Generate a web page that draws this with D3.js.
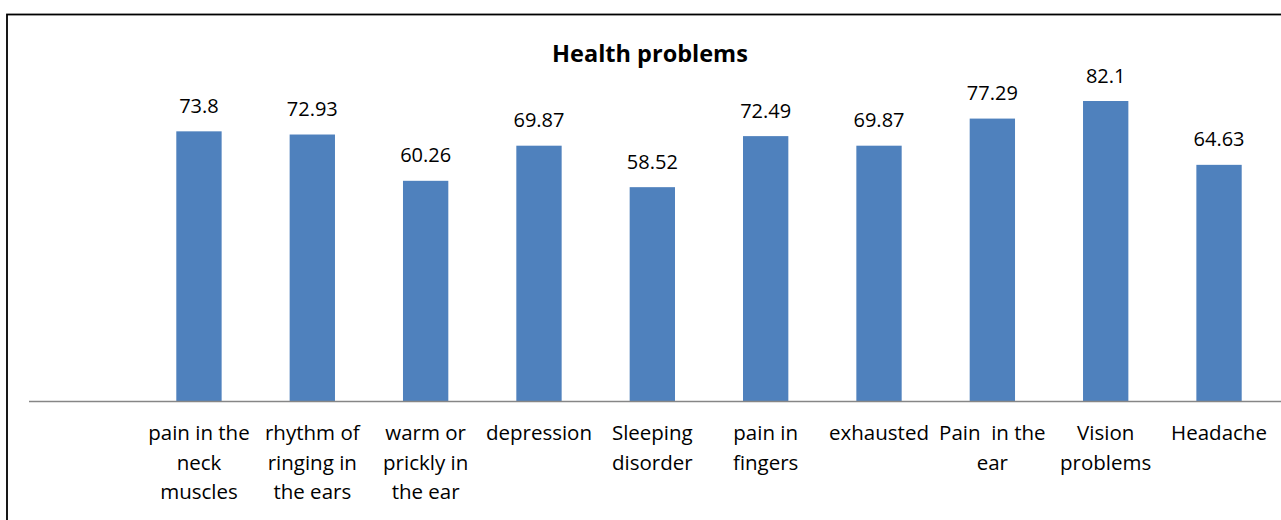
<!DOCTYPE html>
<html>
<head>
<meta charset="utf-8">
<script src="https://cdn.jsdelivr.net/npm/d3@7"></script>
<style>
  body { margin: 0; background: #fff; }
  svg { display: block; }
  text { font-family: "Open Sans", Lato, sans-serif; fill: #000; }
</style>
</head>
<body>
<div id="chart"></div>
<script>
const categories = ["pain in the neck muscles", "rhythm of ringing in the ears", "warm or prickly in the ear",
  "depression", "Sleeping disorder", "pain in fingers", "exhausted", "Pain  in the ear",
  "Vision problems", "Headache"];
const tickLines = [
  ["pain in the", "neck", "muscles"],
  ["rhythm of", "ringing in", "the ears"],
  ["warm or", "prickly in", "the ear"],
  ["depression"],
  ["Sleeping", "disorder"],
  ["pain in", "fingers"],
  ["exhausted"],
  ["Pain  in the", "ear"],
  ["Vision", "problems"],
  ["Headache"]
];
const values = [73.8, 72.93, 60.26, 69.87, 58.52, 72.49, 69.87, 77.29, 82.1, 64.63];
const valueLabels = ["73.8", "72.93", "60.26", "69.87", "58.52", "72.49", "69.87", "77.29", "82.1", "64.63"];

const width = 1281, height = 520;

const svg = d3.select("#chart").append("svg")
  .attr("width", width)
  .attr("height", height);

// outer chart frame (runs off the right and bottom edges)
svg.append("rect")
  .attr("x", 7).attr("y", 14.5)
  .attr("width", 1320).attr("height", 600)
  .attr("fill", "none")
  .attr("stroke", "#000")
  .attr("stroke-width", 1.8);

const x = d3.scaleBand()
  .domain(categories)
  .range([142.3, 1275.7])
  .paddingInner(0.6)
  .paddingOuter(0.3);

const y = d3.scaleLinear()
  .domain([0, 100])
  .range([401, 35.6]);

svg.append("text")
  .attr("x", 650).attr("y", 62)
  .attr("text-anchor", "middle")
  .style("font-weight", "bold")
  .style("font-size", "23.5px")
  .text("Health problems");

svg.selectAll("rect.bar")
  .data(values)
  .join("rect")
  .attr("class", "bar")
  .attr("x", (d, i) => x(categories[i]))
  .attr("width", x.bandwidth())
  .attr("y", d => y(d))
  .attr("height", d => y(0) - y(d))
  .attr("fill", "#4F81BD");

svg.selectAll("text.val")
  .data(values)
  .join("text")
  .attr("class", "val")
  .attr("x", (d, i) => x(categories[i]) + x.bandwidth() / 2)
  .attr("y", d => y(d) - 18.5)
  .attr("text-anchor", "middle")
  .style("font-size", "20px")
  .text((d, i) => valueLabels[i]);

// baseline axis
svg.append("line")
  .attr("x1", 29).attr("x2", width)
  .attr("y1", y(0) + 0.5).attr("y2", y(0) + 0.5)
  .attr("stroke", "#868686")
  .attr("stroke-width", 1.5);

const ticks = svg.selectAll("text.tick")
  .data(tickLines)
  .join("text")
  .attr("class", "tick")
  .attr("text-anchor", "middle")
  .style("font-size", "20.5px")
  .style("white-space", "pre");

ticks.selectAll("tspan")
  .data((lines, i) => lines.map(l => ({ l, i })))
  .join("tspan")
  .attr("x", d => x(categories[d.i]) + x.bandwidth() / 2)
  .attr("y", (d, j) => 440 + j * 29.5)
  .text(d => d.l);
</script>
</body>
</html>
